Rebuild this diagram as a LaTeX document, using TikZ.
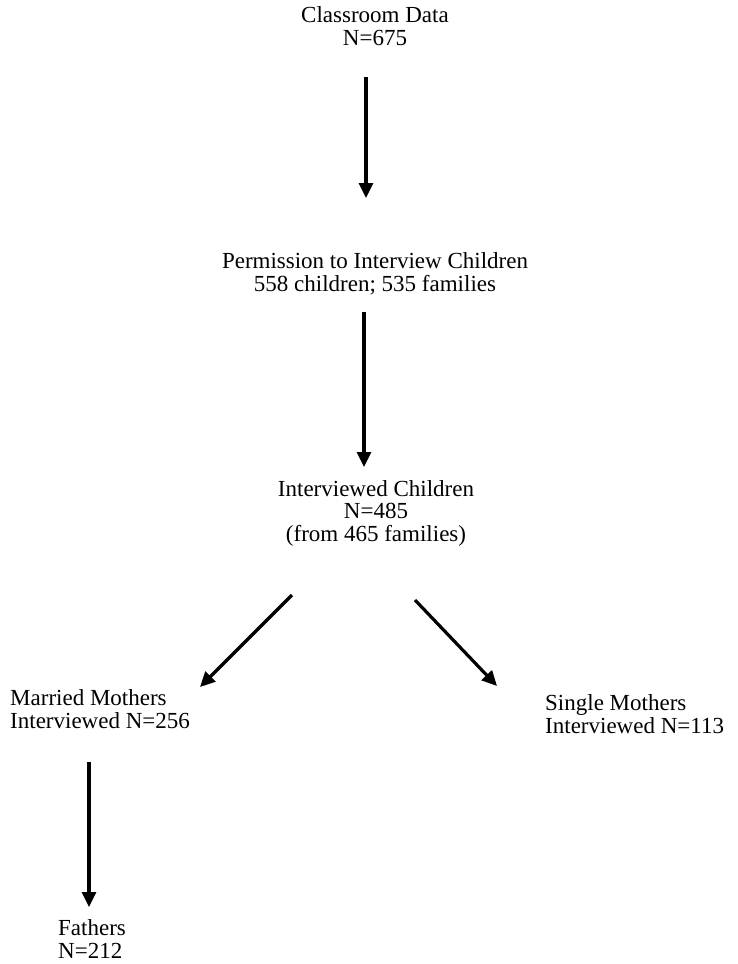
\documentclass[tikz,border=0pt]{standalone}
\usepackage{fontspec}
\setmainfont{Liberation Serif}
\usetikzlibrary{arrows.meta}
\begin{document}
\begin{tikzpicture}[x=1pt,y=-1pt,
  lbl/.style={inner sep=0pt,anchor=base,align=center,
    font=\fontsize{23}{22.5}\selectfont},
  lbll/.style={lbl,anchor=base west,align=left},
  flow/.style={line width=3.2pt,-{Triangle[length=15pt,width=14pt]}}]
\useasboundingbox[fill=white] (0,0) rectangle (738,964);

% study stages (anchored at the baseline of the last line)
\node[lbl] (classroom) at (375,45) {Classroom Data\\N=675};
\node[lbl] (permission) at (375,291) {Permission to Interview Children\\558 children; 535 families};
\node[lbl] (interviewed) at (376,541) {Interviewed Children\\N=485\\(from 465 families)};
\node[lbll] (married) at (10,728) {Married Mothers\\Interviewed N=256};
\node[lbll] (single) at (545,733) {Single Mothers\\Interviewed N=113};
\node[lbll] (fathers) at (58,958) {Fathers\\N=212};

% arrow end points
\coordinate (a1s) at (366,77);
\coordinate (a1e) at (366,198);
\coordinate (a2s) at (364,312);
\coordinate (a2e) at (364,467);
\coordinate (a3s) at (292,595);
\coordinate (a3e) at (200,687);
\coordinate (a4s) at (415,600);
\coordinate (a4e) at (497,686);
\coordinate (a5s) at (89,762);
\coordinate (a5e) at (89,907);

\draw[flow] (a1s) -- (a1e);
\draw[flow] (a2s) -- (a2e);
\draw[flow] (a3s) -- (a3e);
\draw[flow] (a4s) -- (a4e);
\draw[flow] (a5s) -- (a5e);
\end{tikzpicture}
\end{document}
